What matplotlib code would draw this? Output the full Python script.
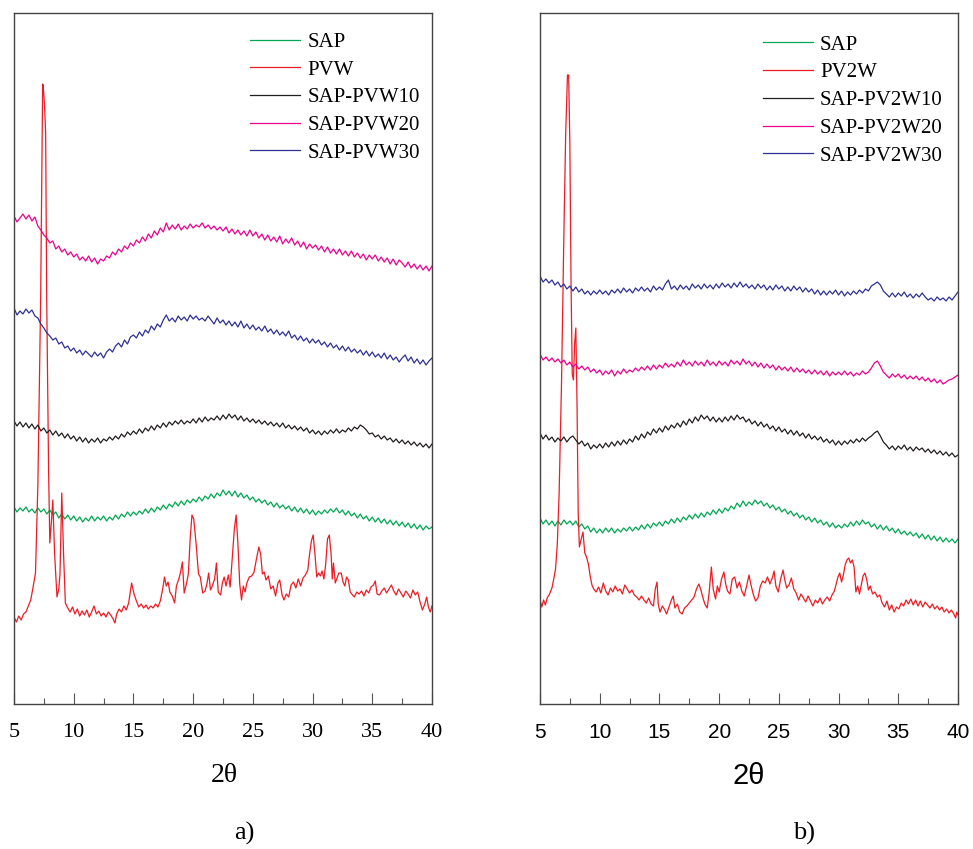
import numpy as np
import matplotlib
matplotlib.use("Agg")
import matplotlib.pyplot as plt

# XRD patterns, intensities in arbitrary units (curves already offset)
two_theta = np.arange(5.0, 40.001, 0.25)

# ---- panel a) ----
a_sap = [197, 192, 196, 193, 197, 192, 195, 191, 196, 192, 195, 190, 194, 189, 192, 186, 190, 185, 189, 184,
         188, 183, 187, 182, 186, 183, 188, 183, 187, 184, 188, 183, 187, 184, 189, 185, 190, 187, 192, 188,
         192, 189, 193, 190, 195, 191, 196, 192, 197, 194, 199, 195, 200, 197, 202, 198, 203, 199, 204, 201,
         205, 202, 207, 203, 208, 205, 210, 206, 211, 208, 214, 209, 213, 208, 213, 207, 211, 206, 209, 204,
         207, 202, 205, 201, 204, 199, 202, 197, 201, 196, 199, 195, 198, 193, 197, 192, 196, 191, 195, 190,
         194, 189, 193, 190, 194, 191, 195, 192, 196, 191, 194, 189, 193, 188, 191, 186, 190, 185, 188, 183,
         187, 182, 186, 181, 185, 180, 184, 179, 183, 178, 182, 177, 181, 176, 180, 175, 179, 174, 178, 175,
         177]
a_pvw10 = [283, 278, 282, 277, 281, 276, 280, 275, 279, 273, 276, 271, 274, 269, 273, 268, 271, 266, 270, 265,
           268, 263, 267, 262, 266, 261, 265, 262, 266, 261, 265, 263, 267, 264, 268, 265, 270, 267, 272, 269,
           273, 270, 275, 271, 276, 273, 278, 274, 279, 276, 281, 277, 282, 279, 283, 280, 284, 280, 283, 281,
           285, 281, 286, 282, 287, 283, 286, 284, 288, 284, 289, 285, 290, 286, 289, 284, 288, 283, 286, 282,
           285, 281, 284, 280, 283, 279, 282, 278, 281, 277, 281, 276, 279, 275, 278, 274, 277, 273, 276, 271,
           274, 270, 273, 269, 273, 270, 274, 271, 275, 271, 274, 272, 276, 273, 277, 275, 279, 277, 274, 270,
           271, 267, 269, 265, 268, 264, 266, 262, 265, 261, 264, 260, 263, 259, 262, 258, 261, 257, 260, 256,
           260]
a_pvw20 = [488, 482, 486, 490, 485, 489, 483, 487, 478, 474, 469, 466, 461, 463, 455, 458, 452, 455, 449, 452,
           447, 450, 444, 447, 443, 448, 442, 446, 440, 445, 443, 448, 446, 452, 449, 455, 452, 458, 455, 461,
           458, 464, 461, 467, 463, 470, 466, 473, 469, 476, 472, 481, 474, 479, 475, 480, 474, 478, 475, 480,
           476, 479, 477, 481, 476, 479, 475, 478, 474, 477, 473, 477, 471, 475, 470, 474, 469, 473, 468, 474,
           468, 472, 466, 470, 464, 469, 463, 467, 462, 468, 460, 465, 461, 466, 459, 463, 457, 462, 455, 460,
           456, 459, 454, 458, 452, 457, 451, 455, 450, 455, 449, 453, 448, 453, 447, 451, 446, 450, 444, 449,
           445, 449, 443, 447, 442, 446, 440, 445, 439, 444, 441, 437, 442, 436, 440, 435, 439, 434, 438, 433,
           438]
a_pvw30 = [396, 389, 393, 390, 395, 391, 394, 388, 386, 380, 376, 371, 368, 364, 366, 360, 362, 356, 358, 353,
           356, 351, 354, 349, 353, 350, 347, 352, 348, 351, 346, 352, 355, 352, 358, 361, 357, 364, 360, 367,
           369, 366, 372, 368, 374, 371, 378, 374, 380, 377, 384, 389, 383, 386, 382, 388, 384, 387, 383, 389,
           385, 388, 384, 386, 383, 388, 384, 380, 386, 381, 384, 379, 383, 378, 382, 377, 383, 376, 380, 375,
           379, 374, 377, 373, 378, 372, 375, 370, 374, 369, 372, 368, 373, 366, 369, 364, 368, 363, 366, 361,
           365, 361, 364, 359, 362, 357, 361, 356, 359, 354, 358, 353, 357, 352, 355, 351, 354, 349, 353, 348,
           352, 347, 350, 346, 351, 345, 349, 344, 347, 342, 346, 349, 343, 347, 341, 345, 340, 344, 339, 343,
           346]
a_pvw_x = [5.0, 5.2, 5.4, 5.6, 5.8, 6.0, 6.2, 6.4, 6.6, 6.8, 7.0, 7.23, 7.4, 7.45, 7.55, 7.65, 7.74, 7.9, 8.0,
           8.15, 8.25, 8.4, 8.6, 8.75, 8.85, 9.0, 9.15, 9.3, 9.5, 9.7, 9.9, 10.1, 10.3, 10.5, 10.7, 10.9,
           11.1, 11.3, 11.5, 11.7, 11.9, 12.1, 12.3, 12.5, 12.7, 12.9, 13.1, 13.3, 13.45, 13.6, 13.8, 14.0,
           14.2, 14.4, 14.6, 14.85, 15.05, 15.25, 15.45, 15.65, 15.85, 16.05, 16.25, 16.45, 16.65, 16.85,
           17.05, 17.25, 17.45, 17.6, 17.75, 17.9, 18.05, 18.25, 18.45, 18.6, 18.8, 18.95, 19.1, 19.25,
           19.45, 19.6, 19.75, 19.9, 20.05, 20.25, 20.45, 20.6, 20.8, 21.0, 21.15, 21.3, 21.45, 21.6, 21.8,
           21.95, 22.1, 22.3, 22.45, 22.6, 22.75, 22.95, 23.1, 23.3, 23.45, 23.6, 23.75, 23.9, 24.05, 24.2,
           24.35, 24.5, 24.7, 24.9, 25.1, 25.3, 25.5, 25.65, 25.8, 25.95, 26.1, 26.3, 26.5, 26.7, 26.9,
           27.1, 27.25, 27.45, 27.6, 27.8, 28.0, 28.2, 28.4, 28.6, 28.8, 29.0, 29.2, 29.4, 29.6, 29.75,
           29.9, 30.05, 30.2, 30.35, 30.5, 30.65, 30.8, 30.95, 31.1, 31.25, 31.4, 31.55, 31.65, 31.75, 31.9,
           32.05, 32.2, 32.4, 32.55, 32.7, 32.85, 33.0, 33.15, 33.35, 33.5, 33.7, 33.9, 34.1, 34.3, 34.5,
           34.7, 34.9, 35.1, 35.25, 35.4, 35.6, 35.8, 36.0, 36.2, 36.4, 36.6, 36.8, 37.0, 37.2, 37.4, 37.6,
           37.8, 38.0, 38.2, 38.4, 38.6, 38.8, 39.0, 39.2, 39.4, 39.55, 39.7, 39.85, 40.0]
a_pvw_y = [87, 82, 88, 84, 90, 92, 98, 104, 117, 131, 220, 404, 620, 618, 600, 571, 404, 230, 161,
           185, 204, 150, 107, 115, 130, 211, 150, 101, 96, 92, 97, 90, 95, 88, 93, 89,
           94, 87, 92, 98, 90, 93, 88, 91, 87, 92, 89, 85, 81, 90, 95, 92,
           98, 94, 101, 121, 110, 103, 97, 100, 96, 99, 95, 98, 96, 100,
           97, 103, 115, 127, 118, 122, 112, 108, 101, 118, 125, 132, 142, 111,
           121, 130, 165, 189, 185, 160, 130, 127, 111, 113, 120, 131, 114, 118, 125,
           141, 112, 109, 121, 127, 118, 129, 117, 150, 175, 189, 160, 120, 104, 118,
           112, 121, 127, 128, 132, 145, 157, 150, 130, 132, 124, 128, 115, 118, 108,
           121, 124, 109, 104, 110, 107, 119, 122, 116, 125, 118, 126, 129, 134, 150,
           163, 169, 150, 127, 131, 128, 133, 125, 140, 165, 169, 150, 125, 141, 121,
           126, 131, 131, 122, 118, 127, 124, 112, 109, 107, 112, 110, 113, 108, 114,
           111, 117, 119, 123, 110, 109, 113, 116, 111, 115, 119, 113, 109, 115, 111, 107,
           113, 110, 106, 114, 109, 112, 102, 94, 100, 107, 97, 92, 98]

# ---- panel b) ----
b_sap = [186, 180, 184, 179, 183, 178, 183, 179, 184, 180, 183, 179, 183, 177, 180, 175, 178, 172, 176, 171,
         175, 171, 176, 172, 176, 171, 175, 172, 176, 173, 177, 173, 177, 174, 179, 175, 180, 176, 181, 178,
         182, 178, 183, 180, 185, 181, 186, 182, 187, 184, 189, 185, 190, 186, 191, 187, 192, 189, 194, 190,
         195, 191, 196, 193, 198, 195, 201, 197, 203, 198, 202, 199, 204, 200, 203, 198, 201, 196, 199, 194,
         197, 192, 195, 190, 193, 188, 191, 186, 189, 184, 187, 182, 186, 181, 184, 179, 182, 177, 181, 176,
         179, 176, 180, 177, 182, 178, 183, 179, 184, 180, 182, 177, 180, 175, 179, 174, 178, 173, 176, 171,
         175, 170, 173, 169, 172, 168, 171, 166, 170, 165, 169, 164, 168, 163, 167, 162, 166, 162, 165, 161,
         165]
b_pv2w10 = [271, 265, 269, 264, 267, 262, 266, 263, 267, 262, 266, 268, 264, 260, 263, 258, 261, 255, 259, 256,
            260, 256, 261, 257, 262, 258, 263, 259, 264, 260, 265, 262, 268, 264, 270, 266, 272, 269, 275, 271,
            276, 272, 278, 274, 279, 276, 281, 277, 283, 279, 285, 281, 287, 283, 289, 285, 288, 283, 287, 282,
            286, 282, 287, 283, 288, 284, 289, 285, 287, 282, 285, 280, 283, 278, 282, 277, 280, 275, 278, 273,
            277, 272, 275, 270, 274, 269, 273, 268, 271, 266, 270, 265, 268, 264, 267, 262, 265, 261, 264, 259,
            263, 259, 263, 260, 264, 261, 265, 262, 266, 263, 266, 268, 271, 273, 268, 262, 259, 255, 258, 254,
            258, 255, 259, 254, 257, 253, 257, 254, 256, 252, 255, 251, 254, 250, 253, 249, 252, 248, 251, 247,
            249]
b_pv2w20 = [350, 344, 347, 343, 346, 342, 345, 341, 344, 339, 342, 337, 340, 335, 338, 334, 337, 332, 335, 331,
            334, 329, 333, 330, 334, 328, 333, 330, 335, 331, 334, 332, 336, 333, 337, 334, 338, 334, 339, 335,
            339, 336, 341, 337, 340, 337, 342, 338, 344, 339, 342, 338, 343, 339, 342, 338, 344, 339, 342, 338,
            343, 339, 342, 338, 344, 340, 343, 339, 345, 340, 343, 338, 342, 337, 341, 336, 340, 336, 339, 334,
            338, 334, 337, 333, 337, 332, 336, 332, 335, 331, 334, 330, 334, 330, 333, 329, 333, 328, 332, 329,
            332, 329, 333, 329, 332, 328, 331, 329, 333, 330, 332, 336, 341, 343, 338, 332, 329, 326, 330, 327,
            330, 326, 329, 325, 328, 325, 328, 324, 327, 323, 326, 322, 325, 321, 324, 320, 322, 324, 325, 327,
            329]
b_pv2w30 = [428, 422, 425, 421, 424, 419, 422, 417, 420, 415, 418, 413, 417, 412, 415, 410, 413, 409, 413, 410,
            414, 410, 413, 409, 414, 411, 415, 411, 416, 412, 415, 411, 416, 413, 417, 413, 416, 412, 418, 414,
            417, 414, 420, 424, 415, 418, 414, 419, 415, 418, 414, 420, 416, 419, 415, 420, 416, 419, 415, 420,
            416, 421, 417, 420, 416, 421, 417, 422, 417, 420, 416, 419, 415, 420, 416, 419, 414, 418, 414, 419,
            415, 418, 413, 417, 413, 418, 414, 417, 412, 416, 412, 415, 410, 414, 409, 413, 409, 413, 410, 414,
            409, 413, 408, 412, 409, 413, 410, 414, 411, 415, 413, 418, 420, 422, 419, 413, 410, 407, 411, 407,
            411, 408, 412, 407, 410, 406, 410, 407, 411, 407, 404, 406, 403, 407, 404, 406, 403, 407, 404, 408,
            412]
b_pv2w_x = [5.0, 5.15, 5.3, 5.45, 5.6, 5.8, 6.0, 6.15, 6.3, 6.45, 6.6, 6.8, 7.0, 7.15, 7.3, 7.4, 7.5, 7.6,
            7.7, 7.8, 7.9, 8.0, 8.1, 8.2, 8.3, 8.45, 8.6, 8.75, 8.9, 9.05, 9.2, 9.35, 9.5, 9.7, 9.9, 10.1,
            10.3, 10.5, 10.7, 10.9, 11.1, 11.3, 11.5, 11.7, 11.9, 12.1, 12.3, 12.5, 12.7, 12.9, 13.1, 13.3,
            13.5, 13.7, 13.9, 14.1, 14.3, 14.5, 14.65, 14.8, 14.9, 15.05, 15.25, 15.45, 15.6, 15.8, 16.0,
            16.15, 16.3, 16.5, 16.7, 16.9, 17.1, 17.3, 17.5, 17.7, 17.9, 18.1, 18.3, 18.45, 18.6, 18.8, 19.0,
            19.15, 19.35, 19.5, 19.7, 19.85, 20.0, 20.2, 20.4, 20.55, 20.7, 20.9, 21.1, 21.3, 21.5, 21.7,
            21.9, 22.1, 22.3, 22.5, 22.65, 22.85, 23.05, 23.25, 23.45, 23.65, 23.85, 24.05, 24.25, 24.45,
            24.6, 24.75, 24.95, 25.15, 25.35, 25.5, 25.65, 25.85, 26.05, 26.25, 26.45, 26.65, 26.85, 27.05,
            27.25, 27.45, 27.65, 27.85, 28.05, 28.25, 28.45, 28.65, 28.85, 29.05, 29.25, 29.45, 29.65, 29.8,
            29.95, 30.1, 30.25, 30.4, 30.55, 30.7, 30.85, 31.0, 31.15, 31.3, 31.45, 31.6, 31.75, 31.9, 32.05,
            32.2, 32.35, 32.5, 32.65, 32.85, 33.05, 33.25, 33.45, 33.65, 33.85, 34.05, 34.25, 34.45, 34.65,
            34.85, 35.05, 35.25, 35.45, 35.65, 35.85, 36.05, 36.25, 36.45, 36.65, 36.85, 37.05, 37.25, 37.45,
            37.65, 37.85, 38.05, 38.25, 38.45, 38.65, 38.85, 39.05, 39.25, 39.45, 39.65, 39.8, 39.9, 40.0]
b_pv2w_y = [104, 97, 104, 99, 106, 110, 116, 125, 135, 160, 210, 320, 470, 570, 629, 629, 560, 420,
            330, 324, 360, 376, 300, 190, 157, 165, 172, 151, 147, 140, 128, 119, 115, 112, 117, 111,
            121, 113, 109, 116, 112, 118, 113, 115, 110, 119, 115, 111, 114, 109, 107, 104,
            108, 104, 101, 106, 100, 98, 115, 122, 100, 92, 98, 94, 90, 97, 104,
            108, 96, 100, 92, 90, 96, 98, 101, 104, 107, 115, 120, 115, 108, 100, 96,
            110, 137, 115, 105, 118, 112, 125, 132, 120, 113, 110, 125, 127, 116, 122,
            113, 108, 118, 129, 120, 110, 103, 106, 118, 123, 121, 127, 120, 126,
            133, 118, 112, 125, 134, 124, 116, 119, 126, 115, 111, 104, 110, 106,
            102, 108, 103, 98, 104, 101, 106, 100, 104, 107, 103, 109, 113, 120,
            127, 131, 122, 129, 139, 144, 146, 141, 144, 137, 112, 118, 110, 119, 128,
            131, 125, 114, 118, 110, 112, 107, 109, 101, 97, 103, 94, 99, 92,
            97, 95, 101, 98, 104, 100, 105, 99, 104, 98, 103, 97, 102, 99,
            96, 100, 95, 98, 94, 97, 92, 95, 91, 94, 90, 86, 92, 89]

labels_a = ['SAP', 'PVW', 'SAP-PVW10', 'SAP-PVW20', 'SAP-PVW30']
labels_b = ['SAP', 'PV2W', 'SAP-PV2W10', 'SAP-PV2W20', 'SAP-PV2W30']
colors = ['#00a651', '#ed1c24', '#231f20', '#ec008c', '#2e3192']

serif = 'Liberation Serif'
sans = 'Liberation Sans'

fig = plt.figure(figsize=(9.73, 8.49), dpi=100)
ax1 = fig.add_axes([14 / 973, 145 / 849, 418 / 973, 691 / 849])
ax2 = fig.add_axes([540 / 973, 145 / 849, 418 / 973, 691 / 849])

panels = [
    (ax1, [a_sap, (a_pvw_x, a_pvw_y), a_pvw10, a_pvw20, a_pvw30], labels_a, serif, 16, (0.565, 0.972)),
    (ax2, [b_sap, (b_pv2w_x, b_pv2w_y), b_pv2w10, b_pv2w20, b_pv2w30], labels_b, sans, 15, (0.533, 0.968)),
]

for ax, series, labels, tick_font, tick_size, leg_pos in panels:
    for s, lab, c in zip(series, labels, colors):
        if isinstance(s, tuple):
            ax.plot(s[0], s[1], color=c, lw=0.9, label=lab)
        else:
            ax.plot(two_theta, s, color=c, lw=0.9, label=lab)
    ax.set_xlim(5, 40)
    ax.set_ylim(0, 691)
    ax.set_yticks([])
    ax.set_xticks(range(5, 41, 5))
    ax.set_xticks(np.arange(7.5, 40, 5), minor=True)
    ax.tick_params(axis='x', which='major', direction='in', length=8, width=0.8,
                   color='#555555', pad=14, labelsize=tick_size)
    ax.tick_params(axis='x', which='minor', direction='in', length=4, width=0.8, color='#555555')
    for lbl in ax.get_xticklabels():
        lbl.set_fontfamily(tick_font)
    for sp in ax.spines.values():
        sp.set_color('#444444')
        sp.set_linewidth(1.0)
    ax.legend(loc='upper left', bbox_to_anchor=leg_pos, frameon=False,
              prop={'family': serif, 'size': 15}, handlelength=2.4, handletextpad=0.35,
              labelspacing=0.39, borderaxespad=0, borderpad=0)

fig.text(224 / 973, 1 - 776 / 849, '2θ', ha='center', va='center', fontsize=20, family=serif)
fig.text(749 / 973, 1 - 776 / 849, '2θ', ha='center', va='center', fontsize=21, family=sans)
fig.text(244 / 973, 1 - 833 / 849, 'a)', ha='center', va='center', fontsize=19, family=serif)
fig.text(804 / 973, 1 - 833 / 849, 'b)', ha='center', va='center', fontsize=19, family=serif)

fig.savefig('out.png', dpi=100)
